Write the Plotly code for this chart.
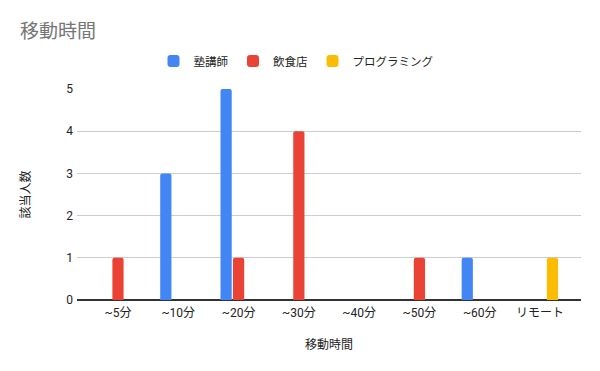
import plotly.graph_objects as go

categories = ["~5分", "~10分", "~20分", "~30分", "~40分", "~50分", "~60分", "リモート"]
juku = [0, 3, 5, 0, 0, 0, 1, 0]
inshoku = [1, 0, 1, 4, 0, 1, 0, 0]
programming = [0, 0, 0, 0, 0, 0, 0, 1]
y_ticks = [0, 1, 2, 3, 4, 5]

FONT = "Roboto, 'Noto Sans CJK JP', sans-serif"
W, H = 592, 363  # page body has an 8px margin

fig = go.Figure()
for name, vals, col in [("塾講師", juku, "#4285F4"),
                        ("飲食店", inshoku, "#EA4335"),
                        ("プログラミング", programming, "#FBBC04")]:
    fig.add_trace(go.Bar(x=categories, y=vals, name=name,
                         marker=dict(color=col, line=dict(width=0))))

fig.update_layout(
    width=W, height=H,
    margin=dict(l=69, r=19, t=81, b=71, autoexpand=False),
    paper_bgcolor="white", plot_bgcolor="white",
    font=dict(family=FONT, size=12, color="#222222"),
    title=dict(text="移動時間", x=12 / W, xanchor="left", y=1 - 23 / H, yanchor="middle",
               yref="container", automargin=False,
               font=dict(family=FONT, size=19, color="#757575")),
    barmode="group", bargap=0.38, bargroupgap=0.1, barcornerradius=2,
    showlegend=True,
    legend=dict(orientation="h", x=288 / W, xanchor="center", xref="container",
                y=1 - 53 / H, yanchor="middle", yref="container",
                font=dict(family=FONT, size=11.5, color="#222222"),
                itemwidth=30),
    xaxis=dict(type="category", range=[-0.68, 7.68], showgrid=False, ticks="",
               showline=False, zeroline=False, automargin=False, ticklabelstandoff=4,
               tickfont=dict(size=12, color="#222222"),
               title=dict(text="移動時間", standoff=21, font=dict(size=12, color="#222222"))),
    yaxis=dict(range=[0, 5], tickvals=y_ticks, showgrid=True, gridcolor="#CCCCCC",
               gridwidth=1, zeroline=True, zerolinecolor="#333333", zerolinewidth=1.5,
               ticks="", automargin=False, ticklabelstandoff=3,
               tickfont=dict(size=12, color="#222222"),
               title=dict(text="該当人数", standoff=33, font=dict(size=12, color="#222222"))),
)

fig.write_html("out.html")
